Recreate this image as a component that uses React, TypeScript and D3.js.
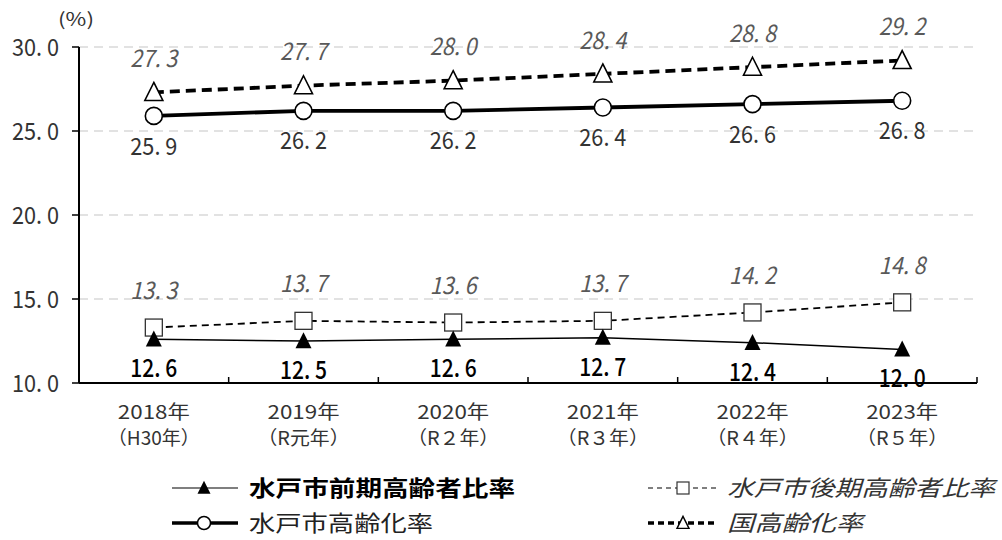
import * as d3 from "d3";

const years = ["2018年", "2019年", "2020年", "2021年", "2022年", "2023年"];
const eras = ["（H30年）", "（R元年）", "（R２年）", "（R３年）", "（R４年）", "（R５年）"];
const earlyElderly = [12.6, 12.5, 12.6, 12.7, 12.4, 12.0];
const lateElderly = [13.3, 13.7, 13.6, 13.7, 14.2, 14.8];
const mitoAging = [25.9, 26.2, 26.2, 26.4, 26.6, 26.8];
const nationalAging = [27.3, 27.7, 28.0, 28.4, 28.8, 29.2];
const yTicks = [10, 15, 20, 25, 30];

const FONT = "'Noto Sans CJK JP', sans-serif";

const W = 1002;
const H = 540;
const LEFT = 79;
const RIGHT = 977;
const TOP = 47;
const BOTTOM = 383;

const fmt = (v: number) => d3.format(".1f")(v).replace(".", ". ");

const tri = (cx: number, cy: number, s: number) =>
  `M${cx},${cy - s * 0.55}L${cx + s / 2},${cy + s * 0.45}L${cx - s / 2},${cy + s * 0.45}Z`;

// number label stretched to the width the reference font gives
const Num = (props: { x: number; y: number; v: number; anchor?: string; fill: string; italic?: boolean; weight?: number; size?: number }) => (
  <text
    x={props.x}
    y={props.y}
    dy="0.36em"
    textAnchor={props.anchor ?? "middle"}
    fontSize={props.size ?? 24}
    fontStyle={props.italic ? "italic" : "normal"}
    fontWeight={props.weight ?? 400}
    fill={props.fill}
    textLength={47}
    lengthAdjust="spacingAndGlyphs"
  >
    {fmt(props.v)}
  </text>
);

export default function App() {
  const x = d3.scaleBand<string>().domain(years).range([LEFT, RIGHT]);
  const y = d3.scaleLinear().domain([10, 30]).range([BOTTOM, TOP]);
  const cx = (i: number) => (x(years[i]) ?? 0) + x.bandwidth() / 2;
  const line = d3
    .line<number>()
    .x((_, i) => cx(i))
    .y((d) => y(d));
  const bounds = [...years.map((c) => x(c) ?? 0), RIGHT];

  return (
    <svg
      width={W}
      height={H}
      style={{ position: "absolute", left: 0, top: 0, background: "#fff" }}
      fontFamily={FONT}
    >
      {/* grid */}
      {yTicks
        .filter((t) => t > 10)
        .map((t) => (
          <line
            key={t}
            x1={LEFT}
            x2={RIGHT}
            y1={y(t)}
            y2={y(t)}
            stroke="#d9d9d9"
            strokeWidth={1.5}
            strokeDasharray="9,6"
          />
        ))}
      {/* y axis */}
      <line x1={LEFT} x2={LEFT} y1={TOP} y2={BOTTOM} stroke="#000" strokeWidth={2} />
      {yTicks.map((t) => (
        <g key={t}>
          <line x1={LEFT - 7} x2={LEFT} y1={y(t)} y2={y(t)} stroke="#000" strokeWidth={1.5} />
          <Num x={59} y={y(t)} v={t} anchor="end" fill="#333" />
        </g>
      ))}
      <text x={76} y={20} dy="0.36em" textAnchor="middle" fontSize={18} fill="#333" textLength={36} lengthAdjust="spacingAndGlyphs">
        (%)
      </text>
      {/* x axis */}
      <line x1={LEFT} x2={RIGHT} y1={BOTTOM} y2={BOTTOM} stroke="#000" strokeWidth={2} />
      {bounds.map((b, i) => (
        <line key={i} x1={b} x2={b} y1={BOTTOM - 6} y2={BOTTOM} stroke="#000" strokeWidth={1.5} />
      ))}
      {years.map((c, i) => (
        <g key={c} fontSize={19} fill="#333" textAnchor="middle">
          <text x={cx(i)} y={412} dy="0.36em" textLength={72} lengthAdjust="spacingAndGlyphs">{c}</text>
          <text x={cx(i)} y={438} dy="0.36em" textLength={92} lengthAdjust="spacingAndGlyphs">{eras[i]}</text>
        </g>
      ))}

      {/* national aging */}
      <path d={line(nationalAging) ?? ""} fill="none" stroke="#000" strokeWidth={3.8} strokeDasharray="10,6" />
      {nationalAging.map((v, i) => (
        <g key={i}>
          <path d={tri(cx(i), y(v), 18)} fill="#fff" stroke="#000" strokeWidth={1.6} />
          <Num x={cx(i)} y={y(v) - 34} v={v} italic fill="#595959" />
        </g>
      ))}

      {/* mito aging */}
      <path d={line(mitoAging) ?? ""} fill="none" stroke="#000" strokeWidth={3.8} />
      {mitoAging.map((v, i) => (
        <g key={i}>
          <circle cx={cx(i)} cy={y(v)} r={8.5} fill="#fff" stroke="#000" strokeWidth={1.6} />
          <Num x={cx(i)} y={y(v) + 30} v={v} fill="#333" />
        </g>
      ))}

      {/* late elderly */}
      <path d={line(lateElderly) ?? ""} fill="none" stroke="#000" strokeWidth={1.8} strokeDasharray="7,5" />
      {lateElderly.map((v, i) => (
        <g key={i}>
          <rect x={cx(i) - 8.5} y={y(v) - 8.5} width={17} height={17} fill="#fff" stroke="#333" strokeWidth={1.3} />
          <Num x={cx(i)} y={y(v) - 37} v={v} italic fill="#595959" />
        </g>
      ))}

      {/* early elderly */}
      <path d={line(earlyElderly) ?? ""} fill="none" stroke="#000" strokeWidth={1.5} />
      {earlyElderly.map((v, i) => (
        <g key={i}>
          <path d={tri(cx(i), y(v), 16)} fill="#000" />
          <Num x={cx(i)} y={y(v) + 29} v={v} fill="#000" weight={500} size={25} />
        </g>
      ))}

      {/* legend */}
      <g fontSize={22}>
        <line x1={172} x2={238} y1={488} y2={488} stroke="#000" strokeWidth={1.2} />
        <path d={tri(204, 488, 13)} fill="#000" />
        <text x={249} y={488} dy="0.36em" fontWeight="bold" fill="#000" textLength={266} lengthAdjust="spacingAndGlyphs">
          水戸市前期高齢者比率
        </text>

        <line x1={172} x2={238} y1={523} y2={523} stroke="#000" strokeWidth={3.5} />
        <circle cx={204} cy={523} r={6.5} fill="#fff" stroke="#000" strokeWidth={1.5} />
        <text x={249} y={523} dy="0.36em" fill="#222" textLength={184} lengthAdjust="spacingAndGlyphs">
          水戸市高齢化率
        </text>

        <line x1={648} x2={718} y1={488} y2={488} stroke="#000" strokeWidth={1.2} strokeDasharray="5,4" />
        <rect x={677} y={482} width={12} height={12} fill="#fff" stroke="#333" strokeWidth={1.2} />
        <text x={727} y={488} dy="0.36em" fontStyle="italic" fill="#333" textLength={268} lengthAdjust="spacingAndGlyphs">
          水戸市後期高齢者比率
        </text>

        <line x1={648} x2={718} y1={523} y2={523} stroke="#000" strokeWidth={3.5} strokeDasharray="6,4" />
        <path d={tri(683, 523, 12)} fill="#fff" stroke="#000" strokeWidth={1.4} />
        <text x={727} y={523} dy="0.36em" fontStyle="italic" fill="#333" textLength={136} lengthAdjust="spacingAndGlyphs">
          国高齢化率
        </text>
      </g>
    </svg>
  );
}
